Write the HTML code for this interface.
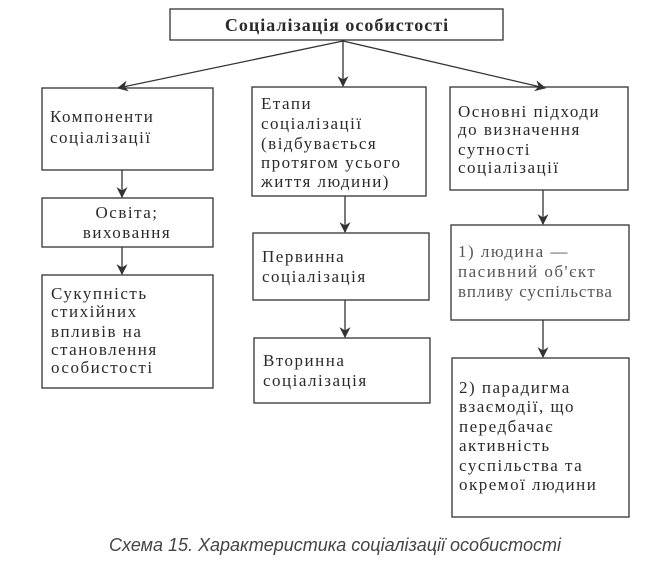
<!DOCTYPE html>
<html><head><meta charset="utf-8"><style>
html,body{margin:0;padding:0;background:#fff;}
svg{display:block;}
.t{font-family:"Liberation Serif",serif;font-size:17px;letter-spacing:1.5px;fill:#2a2a2a;}
.g{fill:#555;}
.b{fill:none;stroke:#333;stroke-width:1.3;}
.l{stroke:#333;stroke-width:1.3;}
</style></head><body>
<svg width="659" height="568" viewBox="0 0 659 568">
<defs><marker id="a" viewBox="0 0 10 10" refX="9" refY="5" markerWidth="14" markerHeight="11" orient="auto" markerUnits="userSpaceOnUse"><path d="M0,0 L10,5 L0,10 L3,5 Z" fill="#333"/></marker></defs>
<rect class="b" x="170" y="9" width="333" height="31"/>
<text x="337" y="31" text-anchor="middle" style="font-family:'Liberation Serif',serif;font-weight:bold;font-size:18px;letter-spacing:1px;fill:#2a2a2a">Соціалізація особистості</text>
<line class="l" x1="343" y1="41" x2="118" y2="88" marker-end="url(#a)"/>
<line class="l" x1="343" y1="41" x2="343" y2="86" marker-end="url(#a)"/>
<line class="l" x1="343" y1="41" x2="545" y2="88" marker-end="url(#a)"/>
<rect class="b" x="42" y="88" width="171" height="82"/>
<text class="t" x="50" y="122">Компоненти</text>
<text class="t" x="50" y="143">соціалізації</text>
<line class="l" x1="122" y1="170" x2="122" y2="197" marker-end="url(#a)"/>
<rect class="b" x="42" y="198" width="171" height="49"/>
<text class="t" x="127" y="218" text-anchor="middle">Освіта;</text>
<text class="t" x="127" y="238" text-anchor="middle">виховання</text>
<line class="l" x1="122" y1="247" x2="122" y2="274" marker-end="url(#a)"/>
<rect class="b" x="42" y="275" width="171" height="113"/>
<text class="t" x="51" y="299">Сукупність</text>
<text class="t" x="51" y="317">стихійних</text>
<text class="t" x="51" y="337">впливів на</text>
<text class="t" x="51" y="355">становлення</text>
<text class="t" x="51" y="373">особистості</text>
<rect class="b" x="252" y="87" width="174" height="109"/>
<text class="t" x="261" y="109">Етапи</text>
<text class="t" x="261" y="129">соціалізації</text>
<text class="t" x="261" y="149">(відбувається</text>
<text class="t" x="261" y="168">протягом усього</text>
<text class="t" x="261" y="187">життя людини)</text>
<line class="l" x1="345" y1="196" x2="345" y2="232" marker-end="url(#a)"/>
<rect class="b" x="253" y="233" width="176" height="67"/>
<text class="t" x="262" y="262">Первинна</text>
<text class="t" x="262" y="282">соціалізація</text>
<line class="l" x1="345" y1="300" x2="345" y2="337" marker-end="url(#a)"/>
<rect class="b" x="254" y="338" width="176" height="65"/>
<text class="t" x="263" y="366">Вторинна</text>
<text class="t" x="263" y="386">соціалізація</text>
<rect class="b" x="450" y="87" width="178" height="103"/>
<text class="t" x="458" y="117">Основні підходи</text>
<text class="t" x="458" y="135">до визначення</text>
<text class="t" x="458" y="155">сутності</text>
<text class="t" x="458" y="173">соціалізації</text>
<line class="l" x1="543" y1="190" x2="543" y2="224" marker-end="url(#a)"/>
<rect class="b" x="451" y="225" width="178" height="95"/>
<text class="t g" x="458" y="257">1) людина —</text>
<text class="t g" x="458" y="277">пасивний об'єкт</text>
<text class="t g" x="458" y="297" style="letter-spacing:0.9px">впливу суспільства</text>
<line class="l" x1="543" y1="320" x2="543" y2="357" marker-end="url(#a)"/>
<rect class="b" x="452" y="358" width="177" height="159"/>
<text class="t" x="459" y="393">2) парадигма</text>
<text class="t" x="459" y="412">взаємодії, що</text>
<text class="t" x="459" y="432">передбачає</text>
<text class="t" x="459" y="451">активність</text>
<text class="t" x="459" y="471">суспільства та</text>
<text class="t" x="459" y="490">окремої людини</text>
<text x="335" y="551" text-anchor="middle" style="font-family:'Liberation Sans',sans-serif;font-style:italic;font-size:18px;fill:#444">Схема 15. Характеристика соціалізації особистості</text>
</svg>
</body></html>
